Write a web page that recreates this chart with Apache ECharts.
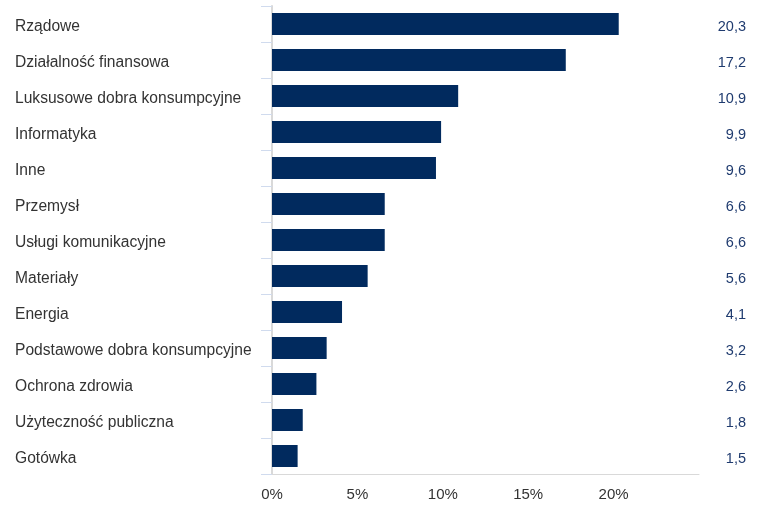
<!DOCTYPE html>
<html>
<head>
<meta charset="utf-8">
<script src="https://cdn.jsdelivr.net/npm/echarts@6/dist/echarts.min.js"></script>
<style>html,body{margin:0;padding:0;background:#fff}#c{width:757px;height:507px}</style>
</head>
<body>
<div id="c"></div>
<script>
const categories = ['Rządowe','Działalność finansowa','Luksusowe dobra konsumpcyjne','Informatyka','Inne','Przemysł','Usługi komunikacyjne','Materiały','Energia','Podstawowe dobra konsumpcyjne','Ochrona zdrowia','Użyteczność publiczna','Gotówka'];
const values = [20.3,17.2,10.9,9.9,9.6,6.6,6.6,5.6,4.1,3.2,2.6,1.8,1.5];
const valueLabels = values.map(v => v.toFixed(1).replace('.', ','));

const chart = echarts.init(document.getElementById('c'), null, {renderer:'canvas'});
chart.setOption({
  animation:false,
  grid:{left:272,right:58,top:6,bottom:33},
  xAxis:{type:'value',min:0,max:25,interval:5,
    axisLine:{show:true,lineStyle:{color:'#d9d9d9',width:1}},
    axisTick:{show:false},splitLine:{show:false},
    axisLabel:{showMaxLabel:false,formatter:'{value}%',color:'#333',fontSize:15,fontFamily:'Liberation Sans, Arial',margin:13}
  },
  yAxis:[{type:'category',data:categories,inverse:true,
    axisLine:{show:true,lineStyle:{color:'#d9d9d9',width:2}},
    axisTick:{show:true,length:11,lineStyle:{color:'#d0dbee',width:1}},
    axisLabel:{align:'left',margin:257,color:'#333',fontSize:15.6,fontFamily:'Liberation Sans, Arial',verticalAlign:'top',lineHeight:6}
  },{type:'category',data:valueLabels,inverse:true,position:'right',
    axisLine:{show:false},axisTick:{show:false},
    axisLabel:{align:'right',margin:47,color:'#1f3b6f',fontSize:14.5,fontFamily:'Liberation Sans, Arial',verticalAlign:'top',lineHeight:6}
  }],
  series:[{type:'bar',data:values,barWidth:22,itemStyle:{color:'#012a5e'},silent:true}]
});
</script>
</body>
</html>
